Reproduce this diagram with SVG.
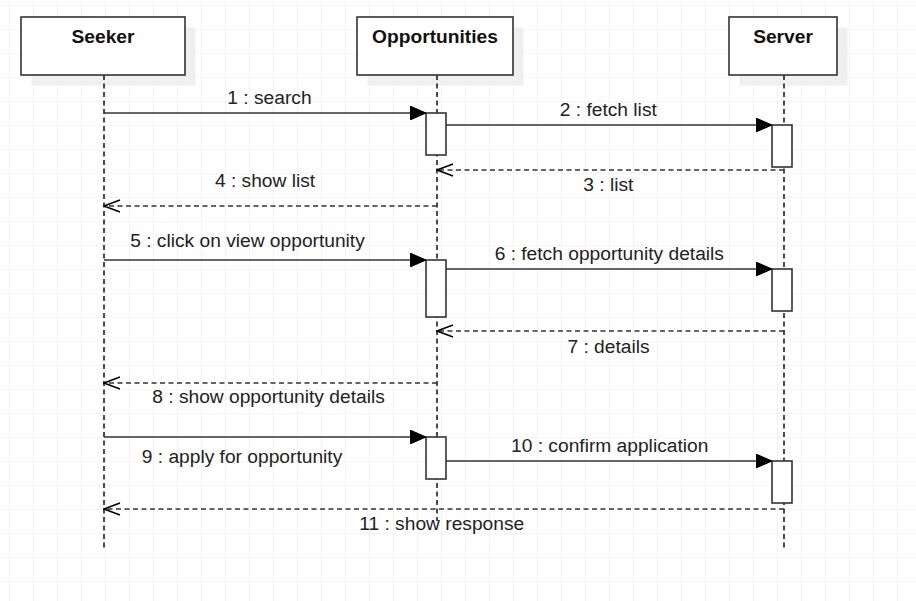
<svg xmlns="http://www.w3.org/2000/svg" width="916" height="601" viewBox="0 0 916 601">
  <defs>
    <pattern id="grid" x="9" y="5" width="24" height="24" patternUnits="userSpaceOnUse">
      <path d="M0 0H24M0 0V24" fill="none" stroke="#ebebeb" stroke-width="1.2"/>
    </pattern>
    <marker id="filled" viewBox="0 0 16 14" refX="16" refY="7" markerWidth="16" markerHeight="14" markerUnits="userSpaceOnUse" orient="auto">
      <path d="M0 0L16 7L0 14Z" fill="#000000" stroke="#000000" stroke-width="1"/>
    </marker>
    <marker id="open" viewBox="0 0 18 14" refX="17" refY="7" markerWidth="18" markerHeight="14" markerUnits="userSpaceOnUse" orient="auto">
      <path d="M1 1L17 7L1 13" fill="none" stroke="#000000" stroke-width="1.5"/>
    </marker>
  </defs>
  <style>
    .head { fill: #ffffff; stroke: #333333; stroke-width: 1.6; }
    .shadow { fill: #efefef; stroke: none; }
    .act { fill: #ffffff; stroke: #333333; stroke-width: 1.6; }
    .life { stroke: #000000; stroke-width: 1.4; stroke-dasharray: 5 3.5; fill: none; }
    .msg { stroke: #333333; stroke-width: 1.6; fill: none; }
    .ret { stroke: #333333; stroke-width: 1.5; stroke-dasharray: 5 3.5; fill: none; }
    .title { font-family: "Liberation Sans", Arial, sans-serif; font-size: 19.2px; font-weight: bold; fill: #111111; text-anchor: middle; }
    .lbl { font-family: "Liberation Sans", Arial, sans-serif; font-size: 19.2px; fill: #222222; text-anchor: middle; }
  </style>
  <rect x="0" y="0" width="916" height="601" fill="#ffffff"/>
  <rect x="0" y="0" width="916" height="601" fill="url(#grid)"/>

  <g id="seeker">
    <rect class="shadow" x="31.5" y="27.5" width="164" height="58"/>
    <line class="life" x1="104" y1="75" x2="104" y2="549"/>
    <rect class="head" x="21" y="17" width="164" height="58"/>
    <text class="title" x="103" y="43">Seeker</text>
  </g>

  <g id="opportunities">
    <rect class="shadow" x="367.5" y="27.5" width="156" height="58"/>
    <line class="life" x1="437" y1="75" x2="437" y2="521"/>
    <rect class="head" x="357" y="17" width="156" height="58"/>
    <text class="title" x="435" y="43">Opportunities</text>
    <rect class="act" x="426" y="113" width="20" height="42"/>
    <rect class="act" x="426" y="260" width="20" height="57"/>
    <rect class="act" x="426" y="437" width="20" height="42"/>
  </g>

  <g id="server">
    <rect class="shadow" x="739.5" y="27.5" width="108" height="58"/>
    <line class="life" x1="784" y1="75" x2="784" y2="549"/>
    <rect class="head" x="729" y="17" width="108" height="58"/>
    <text class="title" x="783" y="43">Server</text>
    <rect class="act" x="772" y="125" width="20" height="42"/>
    <rect class="act" x="772" y="269" width="20" height="42"/>
    <rect class="act" x="772" y="461" width="20" height="42"/>
  </g>

  <g id="connectors">
    <line class="msg" x1="104" y1="113" x2="426" y2="113" marker-end="url(#filled)"/>
    <text class="lbl" x="269.5" y="104">1 : search</text>

    <line class="msg" x1="446" y1="125" x2="772" y2="125" marker-end="url(#filled)"/>
    <text class="lbl" x="608.3" y="116">2 : fetch list</text>

    <line class="ret" x1="784" y1="170" x2="437" y2="170" marker-end="url(#open)"/>
    <text class="lbl" x="608.3" y="191">3 : list</text>

    <line class="ret" x1="437" y1="206" x2="104" y2="206" marker-end="url(#open)"/>
    <text class="lbl" x="265" y="187">4 : show list</text>

    <line class="msg" x1="104" y1="260" x2="426" y2="260" marker-end="url(#filled)"/>
    <text class="lbl" x="247.5" y="247">5 : click on view opportunity</text>

    <line class="msg" x1="446" y1="269" x2="772" y2="269" marker-end="url(#filled)"/>
    <text class="lbl" x="609.3" y="260">6 : fetch opportunity details</text>

    <line class="ret" x1="784" y1="331" x2="437" y2="331" marker-end="url(#open)"/>
    <text class="lbl" x="608.5" y="353">7 : details</text>

    <line class="ret" x1="437" y1="383" x2="104" y2="383" marker-end="url(#open)"/>
    <text class="lbl" x="268.5" y="403">8 : show opportunity details</text>

    <line class="msg" x1="104" y1="437" x2="426" y2="437" marker-end="url(#filled)"/>
    <text class="lbl" x="242" y="463">9 : apply for opportunity</text>

    <line class="msg" x1="446" y1="461" x2="772" y2="461" marker-end="url(#filled)"/>
    <text class="lbl" x="609.7" y="452">10 : confirm application</text>

    <line class="ret" x1="784" y1="509" x2="104" y2="509" marker-end="url(#open)"/>
    <text class="lbl" x="441.7" y="530">11 : show response</text>
  </g>
</svg>
